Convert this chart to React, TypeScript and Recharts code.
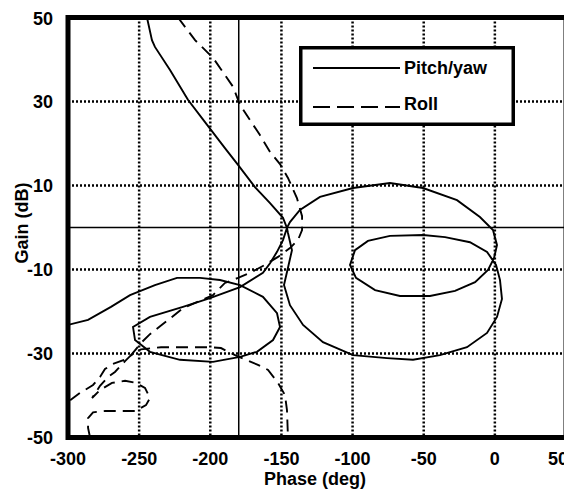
import React from 'react';
import { LineChart, Line, XAxis, YAxis, CartesianGrid, ReferenceLine, ReferenceArea, Legend } from 'recharts';

const phaseTicks = [-300, -250, -200, -150, -100, -50, 0, 50];
const gainTicks = [-50, -30, -10, 10, 30, 50];

// Pitch/yaw open-loop Nichols trace: [phase deg, gain dB]
const pitchYawPts: [number, number][] = [
  [-244.5, 50], [-241.0, 44.6], [-238.9, 43.0], [-228.3, 37.5], [-215.7, 30.4], [-203.7, 25.1],
  [-196.7, 22.0], [-189.7, 18.9], [-180.5, 14.9], [-168.6, 9.6], [-158.0, 5.8], [-148.9, 2.3],
  [-146.1, -0.1], [-145.4, -1.3], [-142.6, -5.4], [-145.4, -9.6], [-148.2, -13.7], [-144.0, -18.5],
  [-134.8, -23.2], [-120.8, -27.3], [-99.7, -30.4], [-75.8, -31.1], [-57.5, -31.5], [-38.6, -30.4],
  [-19.6, -28.5], [-5.5, -25.1], [1.5, -21.3], [5.0, -17.0], [3.6, -12.5], [0.8, -8.9],
  [-5.5, -5.8], [-17.5, -3.5], [-35.0, -2.3], [-50.5, -1.8], [-73.7, -2.0], [-89.2, -3.2],
  [-98.3, -5.4], [-101.8, -8.9], [-97.6, -12.0], [-84.2, -14.9], [-66.7, -16.3], [-45.6, -16.3],
  [-28.0, -15.1], [-13.9, -13.0], [-4.8, -10.1], [-0.6, -7.3],
  [1.5, -4.2], [-1.3, -0.6], [-10.5, 2.5], [-26.6, 6.5], [-50.5, 9.4], [-73.7, 10.6],
  [-99.7, 9.4], [-122.9, 7.3], [-137.0, 4.2], [-144.0, 1.3], [-146.1, -0.1],
  [-148.9, -3.0], [-153.1, -5.8], [-158.0, -8.5], [-163.0, -10.8], [-179.1, -14.2], [-200.2, -16.8],
  [-219.2, -18.9], [-242.4, -21.3], [-254.3, -23.7], [-252.9, -26.8], [-242.4, -29.6], [-221.3, -31.5],
  [-198.1, -32.0], [-179.1, -30.8], [-167.2, -29.6], [-155.9, -26.8], [-151.0, -23.7], [-153.1, -20.4],
  [-163.0, -16.5], [-179.1, -13.7], [-193.2, -12.5], [-207.2, -12.0], [-223.4, -12.0], [-238.9, -13.7],
  [-256.4, -16.1], [-269.8, -18.9], [-285.9, -22.0], [-300, -23.2],
];

// Roll trace, upper branch
const rollUpperPts: [number, number][] = [
  [-222.7, 50], [-210.7, 44.6], [-198.1, 40.4], [-189.7, 36.3], [-184.0, 33.5], [-179.1, 29.2],
  [-173.5, 26.3], [-165.1, 22.0], [-158.0, 18.0], [-151.0, 15.1], [-145.4, 11.8], [-139.1, 7.0],
  [-135.5, 2.7], [-135.5, -0.6], [-138.4, -3.0], [-144.0, -4.9], [-152.4, -7.0], [-161.6, -8.9],
  [-172.1, -10.8], [-180.5, -12.0], [-189.7, -13.2], [-198.1, -16.1], [-219.2, -19.2], [-226.9, -21.3],
  [-235.3, -23.5], [-242.4, -25.4], [-248.7, -27.5], [-255.7, -30.4], [-260.6, -31.5], [-268.4, -32.5],
  [-274.0, -33.7], [-277.5, -35.6], [-282.4, -37.5], [-291.6, -39.4], [-300, -41.5],
];

// Roll trace, lower branch
const rollLowerPts: [number, number][] = [
  [-284.5, -50], [-285.9, -47.7], [-285.9, -45.4], [-282.4, -44.0], [-274.0, -43.7], [-252.9, -43.7],
  [-245.2, -42.3], [-242.4, -40.6], [-245.9, -38.2], [-252.2, -37.0], [-259.9, -36.5], [-269.1, -37.0],
  [-277.5, -38.7], [-283.1, -40.6], [-277.5, -37.7], [-271.9, -35.6], [-267.0, -34.4], [-259.9, -31.8],
  [-255.7, -30.4], [-248.7, -29.0], [-234.6, -28.5], [-199.5, -28.5], [-192.5, -28.7], [-182.6, -30.4],
  [-166.5, -32.7], [-159.4, -33.9], [-152.4, -37.0], [-147.5, -39.9], [-146.1, -43.5], [-145.4, -50],
];

const toRows = (pts: [number, number][]) => pts.map(([x, y]) => ({ x, y }));
const pitchYaw = toRows(pitchYawPts);
const rollUpper = toRows(rollUpperPts);
const rollLower = toRows(rollLowerPts);

const FONT = '"Liberation Sans", Arial, Helvetica, sans-serif';
const FS = 18;
const tickStyle = { fill: '#000', fontSize: FS, fontWeight: 700, fontFamily: FONT };

const XTick = (props: any) => {
  const { x, y, payload } = props;
  const last = payload.value === phaseTicks[phaseTicks.length - 1];
  return (
    <text
      x={last ? x + 4 : x}
      y={y}
      dy={13}
      textAnchor={last ? 'end' : 'middle'}
      fill="#000"
      fontSize={FS}
      fontWeight={700}
      fontFamily={FONT}
    >
      {payload.value}
    </text>
  );
};

const LegendBox = () => (
  <svg width={216} height={80} style={{ display: 'block' }}>
    <rect x={1.75} y={1.75} width={212.5} height={76.5} fill="#fff" stroke="#000" strokeWidth={3.5} />
    <line x1={14} x2={101} y1={22} y2={22} stroke="#000" strokeWidth={2} />
    <text x={105} y={28} fontFamily={FONT} fontWeight={700} fontSize={FS} fill="#000">Pitch/yaw</text>
    <line x1={14} x2={101} y1={61} y2={61} stroke="#000" strokeWidth={2} strokeDasharray="17 7" />
    <text x={105} y={64} fontFamily={FONT} fontWeight={700} fontSize={FS} fill="#000">Roll</text>
  </svg>
);

export default function App() {
  return (
    <div style={{ width: 564, height: 488, position: 'relative', background: '#fff' }}>
      <LineChart width={564} height={488} margin={{ top: 9.5, right: 6, bottom: 28.5, left: 0 }}>
        <CartesianGrid stroke="#000" strokeWidth={2.5} strokeDasharray="2 2" />
        <XAxis
          type="number"
          dataKey="x"
          domain={[-300, 50]}
          ticks={phaseTicks}
          allowDataOverflow
          axisLine={false}
          tickLine={false}
          tickSize={0}
          tickMargin={14}
          height={30}
          tick={<XTick />}
          label={{
            value: 'Phase (deg)',
            content: () => (
              <text x={307} y={477} textAnchor="middle" fontFamily={FONT} fontWeight={700} fontSize={FS} fill="#000">
                Phase (deg)
              </text>
            ),
          }}
        />
        <YAxis
          type="number"
          dataKey="y"
          domain={[-50, 50]}
          ticks={gainTicks}
          allowDataOverflow
          axisLine={false}
          tickLine={false}
          tickSize={0}
          tickMargin={15}
          width={60}
          tick={tickStyle}
          label={{
            value: 'Gain (dB)',
            content: () => (
              <text x={20} y={215} transform="rotate(-90 20 215)" textAnchor="middle" fontFamily={FONT} fontWeight={700} fontSize={FS} fill="#000">
                Gain (dB)
              </text>
            ),
          }}
        />
        <ReferenceLine y={0} stroke="#000" strokeWidth={1.5} />
        <ReferenceLine x={-180} stroke="#000" strokeWidth={1.5} />
        <Line data={pitchYaw} dataKey="y" type="linear" stroke="#000" strokeWidth={1.9} dot={false} activeDot={false} isAnimationActive={false} />
        <Line data={rollUpper} dataKey="y" type="linear" stroke="#000" strokeWidth={1.9} strokeDasharray="12 7" dot={false} activeDot={false} isAnimationActive={false} />
        <Line data={rollLower} dataKey="y" type="linear" stroke="#000" strokeWidth={1.9} strokeDasharray="12 7" dot={false} activeDot={false} isAnimationActive={false} />
        <ReferenceArea x1={-300} x2={50} y1={-50} y2={50} fill="none" fillOpacity={0} stroke="#000" strokeWidth={5} />
        <Legend
          layout="horizontal"
          verticalAlign="middle"
          align="center"
          wrapperStyle={{ position: 'absolute', left: 291, top: 38, width: 216, height: 80 }}
          content={() => <LegendBox />}
        />
      </LineChart>
    </div>
  );
}
